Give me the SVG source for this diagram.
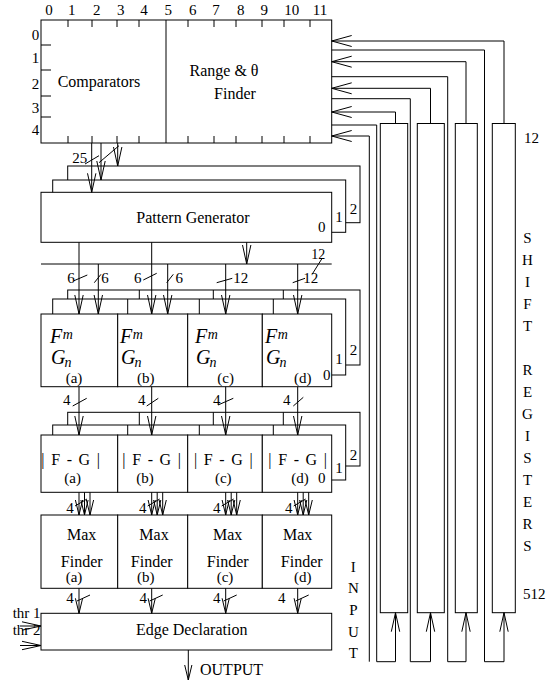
<svg xmlns="http://www.w3.org/2000/svg" width="547" height="681" viewBox="0 0 547 681" font-family="'Liberation Serif', 'Times New Roman', 'DejaVu Serif', serif">
<style>
.l{fill:none;stroke:#000;stroke-width:1}
.b{fill:#fff;stroke:#000;stroke-width:1}
text{font-family:'Liberation Serif','Times New Roman','DejaVu Serif',serif;font-size:15px;fill:#000}
.c{text-anchor:middle}
.k{font-size:16px}
.n{font-size:14px}
.g{font-size:20px;font-style:italic}
.sm{font-size:14px}
.fg{font-size:16px;letter-spacing:1.3px}
.a{marker-end:url(#ah)}
.ab{marker-end:url(#ahb)}
.as{marker-end:url(#ahs)}
</style>
<defs>
<marker id="ah" markerUnits="userSpaceOnUse" orient="auto" overflow="visible" markerWidth="1" markerHeight="1" refX="0" refY="0"><path d="M-19,-4.2L0,0L-19,4.2" fill="none" stroke="#000" stroke-width="1"/></marker>
<marker id="ahb" markerUnits="userSpaceOnUse" orient="auto" overflow="visible" markerWidth="1" markerHeight="1" refX="0" refY="0"><path d="M-20,-5.5L0,0L-20,5.5" fill="none" stroke="#000" stroke-width="1"/></marker>
<marker id="ahs" markerUnits="userSpaceOnUse" orient="auto" overflow="visible" markerWidth="1" markerHeight="1" refX="0" refY="0"><path d="M-15,-3.6L0,0L-15,3.6" fill="none" stroke="#000" stroke-width="1"/></marker>
</defs>
<rect width="547" height="681" fill="#fff"/>

<!-- Comparators / Range finder -->
<g id="comparators">
<rect class="b" x="41" y="20" width="290.7" height="123"/>
<path class="l" d="M166,20V143M68,20v7M92,20v7M117,20v7M139,20v7M188,20v7M214,20v7M236,20v7M262,20v7M284,20v7M310,20v7M68,143v-7M92,143v-7M117,143v-7M139,143v-7M188,143v-7M214,143v-7M236,143v-7M262,143v-7M284,143v-7M310,143v-7M41,45h10M41,70h10M41,96h10M41,117h10"/>
<g class="c n">
<text x="49" y="15">0</text><text x="71.7" y="15">1</text><text x="96.7" y="15">2</text><text x="120.7" y="15">3</text><text x="144" y="15">4</text><text x="168.3" y="15">5</text><text x="192.7" y="15">6</text><text x="216" y="15">7</text><text x="240.7" y="15">8</text><text x="264.3" y="15">9</text><text x="291.7" y="15">10</text><text x="320" y="15">11</text>
<text x="35.5" y="40">0</text><text x="35.5" y="63.3">1</text><text x="35.5" y="89.3">2</text><text x="35.5" y="112.7">3</text><text x="35.5" y="135">4</text>
</g>
<text class="c k" x="99" y="87">Comparators</text>
<text class="c k" x="224" y="76">Range &amp; θ</text>
<text class="c k" x="235" y="99">Finder</text>
</g>

<!-- Pattern generator -->
<g id="pattern-generator">
<rect class="b" x="67.7" y="166" width="292.3" height="56.7"/>
<rect class="b" x="52.7" y="180" width="293" height="52.3"/>
<rect class="b" x="41" y="192.3" width="290.7" height="50"/>
<text class="c k" x="193" y="222.7">Pattern  Generator</text>
<text class="c" x="321.7" y="231.7">0</text>
<text class="c" x="339" y="221.7">1</text>
<text class="c" x="353.5" y="214">2</text>
</g>

<!-- F/G stack -->
<g id="fg-stack">
<rect class="b" x="67.7" y="290" width="292.3" height="75"/>
<path class="l" d="M139.3,290v9M213.3,290v9M283.3,290v9"/>
<rect class="b" x="52.7" y="299" width="293" height="76"/>
<path class="l" d="M127.7,299v15M199.3,299v15M273.3,299v15"/>
<text class="c" x="353.5" y="355">2</text>
<text class="c" x="339" y="364">1</text>
</g>
<g id="fg-a"><rect class="b" x="41" y="314" width="76.7" height="72.7"/>
<text class="g" x="50" y="343">F<tspan class="sm" dx="0.5" dy="-4">m</tspan></text><text class="g" x="51" y="364">G<tspan class="sm" dx="-1" dy="3">n</tspan></text><text class="c" x="74" y="382.5">(a)</text></g>
<g id="fg-b"><rect class="b" x="117.7" y="314" width="70" height="72.7"/>
<text class="g" x="120" y="343">F<tspan class="sm" dx="0.5" dy="-4">m</tspan></text><text class="g" x="121" y="364">G<tspan class="sm" dx="-1" dy="3">n</tspan></text><text class="c" x="145.7" y="382.5">(b)</text></g>
<g id="fg-c"><rect class="b" x="187.7" y="314" width="74.6" height="72.7"/>
<text class="g" x="195" y="343">F<tspan class="sm" dx="0.5" dy="-4">m</tspan></text><text class="g" x="196" y="364">G<tspan class="sm" dx="-1" dy="3">n</tspan></text><text class="c" x="225.7" y="382.5">(c)</text></g>
<g id="fg-d"><rect class="b" x="262.3" y="314" width="69.4" height="72.7"/>
<text class="g" x="265" y="343">F<tspan class="sm" dx="0.5" dy="-4">m</tspan></text><text class="g" x="266" y="364">G<tspan class="sm" dx="-1" dy="3">n</tspan></text><text class="c" x="302.7" y="382.5">(d)</text>
<text class="c" x="326.7" y="380">0</text></g>

<!-- |F-G| stack -->
<g id="absdiff-stack">
<rect class="b" x="67.7" y="412.3" width="292.3" height="53.7"/>
<path class="l" d="M139.3,412.3v12.7M213.3,412.3v12.7M283.3,412.3v12.7"/>
<rect class="b" x="52.7" y="425" width="293" height="55"/>
<path class="l" d="M127.7,425v10M199.3,425v10M273.3,425v10"/>
<text class="c" x="353.5" y="460">2</text>
<text class="c" x="339" y="472.7">1</text>
</g>
<g id="absdiff-a"><rect class="b" x="41" y="435" width="76.7" height="57.3"/>
<text class="c fg" x="71.3" y="465">| F - G |</text><text class="c" x="72.7" y="483.3">(a)</text></g>
<g id="absdiff-b"><rect class="b" x="117.7" y="435" width="70" height="57.3"/>
<text class="c fg" x="152.3" y="465">| F - G |</text><text class="c" x="145" y="483.3">(b)</text></g>
<g id="absdiff-c"><rect class="b" x="187.7" y="435" width="74.6" height="57.3"/>
<text class="c fg" x="224" y="465">| F - G |</text><text class="c" x="223.3" y="483.3">(c)</text></g>
<g id="absdiff-d"><rect class="b" x="262.3" y="435" width="69.4" height="57.3"/>
<text class="c fg" x="298.3" y="465">| F - G |</text><text class="c" x="300" y="483.3">(d)</text>
<text class="c" x="321.7" y="483.3">0</text></g>

<!-- Max finders -->
<g id="max-a"><rect class="b" x="41" y="515" width="76.7" height="73.3"/>
<text class="c k" x="81.7" y="540">Max</text><text class="c k" x="81.7" y="566.5">Finder</text><text class="c" x="74" y="582">(a)</text></g>
<g id="max-b"><rect class="b" x="117.7" y="515" width="70" height="73.3"/>
<text class="c k" x="154" y="540">Max</text><text class="c k" x="151.7" y="566.5">Finder</text><text class="c" x="145.7" y="582">(b)</text></g>
<g id="max-c"><rect class="b" x="187.7" y="515" width="74.6" height="73.3"/>
<text class="c k" x="227.7" y="540">Max</text><text class="c k" x="227.7" y="566.5">Finder</text><text class="c" x="225" y="582">(c)</text></g>
<g id="max-d"><rect class="b" x="262.3" y="515" width="69.4" height="73.3"/>
<text class="c k" x="297.7" y="540">Max</text><text class="c k" x="301.7" y="566.5">Finder</text><text class="c" x="302.7" y="582">(d)</text></g>

<!-- Edge declaration -->
<g id="edge-declaration"><rect class="b" x="41" y="613.3" width="290.7" height="36.7"/>
<text class="c k" x="191.7" y="635">Edge  Declaration</text></g>

<!-- Shift registers -->
<g id="sr-1"><rect class="b" x="380.3" y="123.5" width="27.4" height="489.2"/></g>
<g id="sr-2"><rect class="b" x="417.3" y="123.5" width="27" height="489.2"/></g>
<g id="sr-3"><rect class="b" x="455.3" y="123.5" width="22" height="489.2"/></g>
<g id="sr-4"><rect class="b" x="492.3" y="123.5" width="23" height="489.2"/></g>

<!-- Labels -->
<g id="labels">
<text x="524" y="143">12</text>
<text x="523" y="599.3">512</text>
<g class="c">
<text x="527.5" y="243">S</text><text x="527.5" y="265">H</text><text x="527.5" y="287">I</text><text x="527.5" y="309">F</text><text x="527.5" y="331">T</text>
<text x="527.5" y="375">R</text><text x="527.5" y="397">E</text><text x="527.5" y="419">G</text><text x="527.5" y="441">I</text><text x="527.5" y="463">S</text><text x="527.5" y="485">T</text><text x="527.5" y="507">E</text><text x="527.5" y="529">R</text><text x="527.5" y="551">S</text>
<text x="353.3" y="571.7">I</text><text x="353.3" y="593.3">N</text><text x="353.3" y="615">P</text><text x="353.3" y="636.7">U</text><text x="353.3" y="658.3">T</text>
</g>
<text x="12.7" y="618.3">thr 1</text>
<text x="12.7" y="635">thr 2</text>
<text class="k" x="200" y="675">OUTPUT</text>
<text class="c" x="79.8" y="163.3">25</text>
<text class="c n" x="318.3" y="258.5">12</text>
<g class="c n">
<text x="71" y="282.7">6</text><text x="105" y="282.7">6</text><text x="137.7" y="282.7">6</text><text x="179.3" y="282.7">6</text><text x="240.7" y="282.7">12</text><text x="310.7" y="282.7">12</text>
<text x="66.7" y="405">4</text><text x="141.7" y="405">4</text><text x="216.7" y="405">4</text><text x="286.7" y="405">4</text>
<text x="70" y="513">4</text><text x="142.7" y="513">4</text><text x="216.7" y="513">4</text><text x="288.7" y="513">4</text>
<text x="70" y="603.3">4</text><text x="143.3" y="603.3">4</text><text x="216.7" y="603.3">4</text><text x="281.7" y="603.3">4</text>
</g>
</g>

<!-- Connectors -->
<g id="connectors">
<path class="l a" d="M91.7,143V192.3"/>
<path class="l a" d="M101,143V180"/>
<path class="l a" d="M117.7,143V166"/>
<path class="l" d="M85,164L99,155.7M99,162.7L119,145.7"/>

<path class="l a" d="M79,242.3V314"/>
<path class="l a" d="M151.7,242.3V314"/>
<path class="l a" d="M246.7,242.3V264"/>
<path class="l" d="M41,264H331.7M321.7,259L312.3,274"/>
<path class="l a" d="M98.3,264V314"/>
<path class="l a" d="M167.7,264V314"/>
<path class="l a" d="M225.7,264V314"/>
<path class="l a" d="M297.7,264V314"/>
<path class="l" d="M74,280.7L87.3,275M94.3,282.7L101,274.3M143.3,280L156.7,273.3M166.7,282.7L173.3,274.3M216.7,282.7L232.3,278.3M292.7,282.7L305,278.3"/>

<path class="l a" d="M79,386.7V435"/>
<path class="l a" d="M151.7,386.7V435"/>
<path class="l a" d="M225.7,386.7V435"/>
<path class="l a" d="M297.7,386.7V435"/>
<path class="l" d="M72.7,406L86.7,398.3M146.7,406L158.3,398.3M218,405L233.3,398.3M293.3,406L303.3,397.3"/>

<path class="l as" d="M79,492.3V515"/><path class="l as" d="M84.5,492.3V515"/><path class="l as" d="M90,492.3V515"/>
<path class="l as" d="M151.7,492.3V515"/><path class="l as" d="M157.2,492.3V515"/><path class="l as" d="M162.7,492.3V515"/>
<path class="l as" d="M225.7,492.3V515"/><path class="l as" d="M231.2,492.3V515"/><path class="l as" d="M236.7,492.3V515"/>
<path class="l as" d="M297.7,492.3V515"/><path class="l as" d="M303.2,492.3V515"/><path class="l as" d="M308.7,492.3V515"/>
<path class="l" d="M75,506L87,499M147.7,506L159.7,499M221.7,506L233.7,499M293.7,506L305.7,499"/>

<path class="l as" d="M79,588.3V613.3"/>
<path class="l as" d="M151.7,588.3V613.3"/>
<path class="l as" d="M225.7,588.3V613.3"/>
<path class="l as" d="M297.7,588.3V613.3"/>
<path class="l" d="M77,601L90,595M149.7,601L162.7,595M223.7,601L236.7,595M295.7,601L308.7,595"/>

<path class="l a" d="M20,626H41"/>
<path class="l a" d="M20,645.5H41"/>
<path class="l as" d="M188.3,650V680"/>

<path class="l ab" d="M369.3,661.7V136H331.7"/>
<path class="l ab" d="M395.5,123.5V112H331.7"/>
<path class="l ab" d="M430.5,123.5V88.3H331.7"/>
<path class="l ab" d="M466,123.5V61.7H331.7"/>
<path class="l ab" d="M504,123.5V41H331.7"/>
<path class="l a" d="M331.7,125H376.7V661.7H395.5V612.7"/>
<path class="l a" d="M331.7,98.7H410.3V661.7H430.5V612.7"/>
<path class="l a" d="M331.7,76.7H447.7V661.7H466V612.7"/>
<path class="l a" d="M331.7,50H484.5V661.7H504V612.7"/>
</g>
</svg>
